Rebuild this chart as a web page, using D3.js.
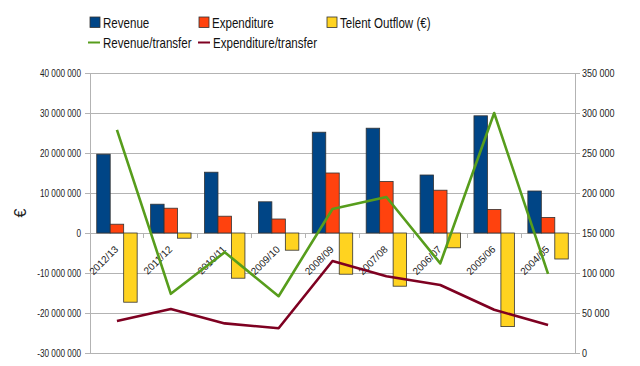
<!DOCTYPE html>
<html><head><meta charset="utf-8">
<script src="https://cdn.jsdelivr.net/npm/d3@7"></script>
<style>body{margin:0;background:#fff}svg{display:block;font-family:"Liberation Sans",Arial,sans-serif}</style>
</head><body>
<svg id="c" width="640" height="366"></svg>
<script>
const categories = ["2012/13","2011/12","2010/11","2009/10","2008/09","2007/08","2006/07","2005/06","2004/05"];
const revenue = [19.7e6, 7.2e6, 15.2e6, 7.8e6, 25.2e6, 26.2e6, 14.5e6, 29.3e6, 10.5e6];
const expenditure = [2.2e6, 6.2e6, 4.2e6, 3.5e6, 15.0e6, 12.9e6, 10.7e6, 5.9e6, 3.9e6];
const outflow = [-17.3e6, -1.3e6, -11.3e6, -4.3e6, -10.3e6, -13.3e6, -3.7e6, -23.4e6, -6.5e6];
const revPerTransfer = [279000, 74000, 126000, 71000, 180000, 195000, 112000, 300000, 99000];
const expPerTransfer = [40000, 55000, 37000, 31000, 115000, 96000, 85000, 54000, 35000];
const leftTicks = [-30e6,-20e6,-10e6,0,10e6,20e6,30e6,40e6];
const rightTicks = [0,50000,100000,150000,200000,250000,300000,350000];
const barSeries = [
  {name:"Revenue", values:revenue, color:"#004586"},
  {name:"Expenditure", values:expenditure, color:"#ff420e"},
  {name:"Telent Outflow (€)", values:outflow, color:"#ffd320"}
];
const lineSeries = [
  {name:"Revenue/transfer", values:revPerTransfer, color:"#579d1c"},
  {name:"Expenditure/transfer", values:expPerTransfer, color:"#7e0021"}
];

const svg = d3.select("#c");
const L=90, R=575, T=73, B=353;
const x = d3.scaleBand().domain(categories).range([L,R]).padding(0);
const xs = d3.scaleBand().domain([0,1,2]).range([0,x.bandwidth()]).paddingOuter(0.5).paddingInner(0);
const yL = d3.scaleLinear().domain([-30e6,40e6]).range([B,T]);
const yR = d3.scaleLinear().domain([0,350000]).range([B,T]);
const fmt = v => d3.format(",")(v).replace(/,/g," ").replace("−","-");

function squeeze(sel, f){ sel.each(function(){ const w=this.getComputedTextLength(); d3.select(this).attr("textLength", w*f).attr("lengthAdjust","spacingAndGlyphs"); }); }

// grid
svg.append("g").selectAll("line").data(leftTicks).join("line")
  .attr("x1",L).attr("x2",R).attr("y1",d=>yL(d)).attr("y2",d=>yL(d))
  .attr("stroke","#b3b3b3").attr("stroke-width",1).attr("shape-rendering","crispEdges");

// left axis
const gl = svg.append("g").attr("transform",`translate(${L},0)`)
  .call(d3.axisLeft(yL).tickValues(leftTicks).tickFormat(fmt).tickSize(5).tickPadding(4));
gl.select(".domain").attr("stroke","#b3b3b3");
gl.selectAll(".tick line").attr("stroke","#b3b3b3");
gl.selectAll("text").attr("font-size",10).attr("fill","#222").attr("font-family","Liberation Sans, Arial").call(squeeze,0.82);

// right axis
const gr = svg.append("g").attr("transform",`translate(${R},0)`)
  .call(d3.axisRight(yR).tickValues(rightTicks).tickFormat(fmt).tickSize(5).tickPadding(2));
gr.select(".domain").attr("stroke","#b3b3b3");
gr.selectAll(".tick line").attr("stroke","#b3b3b3");
gr.selectAll("text").attr("font-size",10).attr("fill","#222").attr("font-family","Liberation Sans, Arial").call(squeeze,0.9);

// x ticks at zero line
svg.append("g").selectAll("line").data(categories.slice(1)).join("line")
  .attr("x1",d=>x(d)).attr("x2",d=>x(d)).attr("y1",yL(0)).attr("y2",yL(0)+5)
  .attr("stroke","#b3b3b3").attr("shape-rendering","crispEdges");

// bars
barSeries.forEach((s,si)=>{
  svg.append("g").selectAll("rect").data(s.values).join("rect")
    .attr("x",(d,i)=>x(categories[i])+xs(si))
    .attr("width",xs.bandwidth())
    .attr("y",d=>yL(Math.max(0,d)))
    .attr("height",d=>Math.abs(yL(d)-yL(0)))
    .attr("fill",s.color).attr("stroke","#333").attr("stroke-width",0.8);
});

// category labels
svg.append("g").selectAll("text").data(categories).join("text")
  .attr("transform",d=>`translate(${x(d)+x.bandwidth()/2+2},${yL(0)+17}) rotate(-45)`)
  .attr("text-anchor","end").attr("font-size",10).attr("fill","#222").text(d=>d);

// lines
lineSeries.forEach(s=>{
  const line = d3.line().x((d,i)=>x(categories[i])+x.bandwidth()/2).y(d=>yR(d));
  svg.append("path").datum(s.values).attr("d",line).attr("fill","none")
    .attr("stroke",s.color).attr("stroke-width",2.6).attr("stroke-linejoin","round");
});

// y label
svg.append("text").attr("transform","translate(26,213) rotate(-90)").attr("text-anchor","middle")
  .attr("font-size",16).attr("fill","#222").text("€");

// legend
const legPos = [[90,17],[199,17],[327,17]];
barSeries.forEach((s,i)=>{
  const [lx,ly]=legPos[i];
  svg.append("rect").attr("x",lx).attr("y",ly).attr("width",10).attr("height",10.5)
    .attr("fill",s.color).attr("stroke","#333").attr("stroke-width",0.8);
  svg.append("text").attr("x",lx+13).attr("y",ly+10.5).attr("font-size",15).attr("fill","#111").text(s.name).call(squeeze,0.77);
});
const legLine = [[88,42.5],[198,42.5]];
lineSeries.forEach((s,i)=>{
  const [lx,ly]=legLine[i];
  svg.append("line").attr("x1",lx).attr("x2",lx+12).attr("y1",ly).attr("y2",ly).attr("stroke",s.color).attr("stroke-width",2);
  svg.append("text").attr("x",lx+15).attr("y",ly+5).attr("font-size",15).attr("fill","#111").text(s.name).call(squeeze,0.77);
});
</script>
</body></html>
